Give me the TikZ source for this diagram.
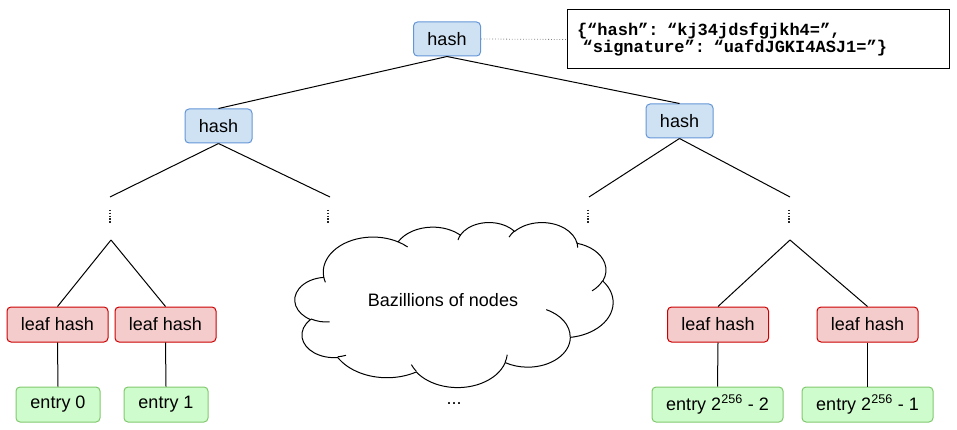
\documentclass[tikz,border=0pt]{standalone}
\usepackage{fontspec}
\setmainfont{Liberation Sans}
\newfontfamily\jsonfont{Liberation Mono}
\definecolor{hashfill}{RGB}{207,226,243}
\definecolor{hashdraw}{RGB}{100,150,215}
\definecolor{leaffill}{RGB}{244,204,204}
\definecolor{leafdraw}{RGB}{204,0,0}
\definecolor{entryfill}{RGB}{206,252,204}
\definecolor{entrydraw}{RGB}{130,200,110}
% OOXML-style elliptical arc: name, wR, hR, start angle, sweep (visual angles)
\newcommand\ooprep[5]{%
  \pgfmathsetmacro\ootA{atan2((#2)*sin(#4),(#3)*cos(#4))}%
  \pgfmathsetmacro\ootB{atan2((#2)*sin((#4)+(#5)),(#3)*cos((#4)+(#5)))}%
  \pgfmathsetmacro\ootB{\ootB+360*(\ootB<\ootA)}%
  \edef\ootmp{\noexpand\tikzset{#1/.style={x radius=#2,y radius=#3,start angle=\ootA,end angle=\ootB}}}%
  \ootmp}
\ooprep{cc1}{67.53}{91.90}{-190.4875}{123.7805}
\ooprep{cc2}{53.33}{72.67}{-144.1024}{89.9452}
\ooprep{cc3}{43.65}{59.45}{-145.8079}{99.7230}
\ooprep{cc4}{48.57}{65.95}{-130.9861}{117.2417}
\ooprep{cc5}{53.33}{72.73}{-78.7089}{109.0269}
\ooprep{cc6}{67.75}{92.20}{-46.2673}{130.2690}
\ooprep{cc7}{57.85}{78.67}{0.6250}{114.0333}
\ooprep{cc8}{67.52}{92.15}{22.4516}{115.1726}
\ooprep{cc9}{77.20}{105.43}{66.2426}{75.7110}
\ooprep{cc10}{43.60}{59.18}{-274.9421}{146.7356}
\ooprep{cc11}{43.45}{59.45}{-246.8285}{152.5189}
\ooprep{hk1}{43.45}{59.45}{86.7420}{26.4295}
\ooprep{hk2}{43.60}{59.18}{73.6105}{11.4475}
\ooprep{hk3}{67.52}{92.15}{137.6242}{14.0811}
\ooprep{hk4}{67.52}{92.15}{6.4533}{15.9984}
\ooprep{hk5}{57.85}{78.67}{-70.2924}{70.9174}
\ooprep{hk6}{53.33}{72.73}{30.3180}{27.7515}
\ooprep{hk7}{48.57}{65.95}{-13.7443}{14.8589}
\ooprep{hk8}{48.57}{65.95}{-149.1815}{18.1954}
\ooprep{hk9}{43.65}{59.45}{-163.4943}{17.6864}
\ooprep{hk10}{67.53}{91.90}{-66.7070}{12.3194}
\ooprep{hk11}{67.53}{91.90}{157.6544}{11.8582}
\begin{document}
\begin{tikzpicture}[x=1pt,y=-1pt,
  every node/.style={font=\fontsize{18}{21}\selectfont, inner sep=0pt},
  conn/.style={line width=1pt, black},
  box/.style={rounded corners=4pt, line width=1pt, minimum height=35pt},
  hashbox/.style={box, fill=hashfill, draw=hashdraw, minimum width=67pt, minimum height=34pt},
  leafbox/.style={box, fill=leaffill, draw=leafdraw, minimum width=101pt},
  entrybox/.style={box, fill=entryfill, draw=entrydraw},
  vdotsnode/.style={minimum width=0pt, minimum height=13pt},
  vdotsline/.style={line width=1.3pt, black!85, dash pattern=on 1.3pt off 1.6pt},
  cloudline/.style={line width=1pt, black}]
\useasboundingbox (0,0) rectangle (957,430);
% hash nodes
\node[hashbox] (root) at (447,39) {hash};
\node[hashbox] (lh) at (218.5,126) {hash};
\node[hashbox] (rh) at (679.5,121) {hash};
% json box
\node[draw=black, line width=1pt, minimum width=382pt, minimum height=59pt,
      text width=362pt, align=left, inner xsep=10pt,
      font=\jsonfont\bfseries\fontsize{17}{17}\selectfont] (json) at (758,39.5)
  {\{“hash”: “kj34jdsfgjkh4=”,\\\ “signature”: “uafdJGKI4ASJ1=”\}};
\draw[dotted, line width=0.8pt, gray] (root.east) -- (json.west);
% top-level connectors
\draw[conn] (root.south) -- (lh.north);
\draw[conn] (root.south) -- (rh.north);
% branch ends and vertical dots
\coordinate (t1) at (110,197);
\coordinate (t2) at (330,197);
\coordinate (t3) at (589,197);
\coordinate (t4) at (790,197);
\draw[conn] (lh.south) -- (t1);
\draw[conn] (lh.south) -- (t2);
\draw[conn] (rh.south) -- (t3);
\draw[conn] (rh.south) -- (t4);
\node[vdotsnode] (d1) at (110,216.5) {};
\node[vdotsnode] (d2) at (328,216.5) {};
\node[vdotsnode] (d3) at (588,216.5) {};
\node[vdotsnode] (d4) at (789,216.5) {};
\foreach \d in {d1,d2,d3,d4}
  \draw[vdotsline] (\d.north) -- (\d.south);
% leaf hashes
\node[leafbox] (l1) at (57.5,324.5) {leaf hash};
\node[leafbox] (l2) at (165.5,324.5) {leaf hash};
\node[leafbox] (l3) at (718,324.5) {leaf hash};
\node[leafbox] (l4) at (867.5,324.5) {leaf hash};
\coordinate (a1) at (111,240);
\coordinate (a4) at (790,240);
\draw[conn] (a1) -- (l1.north);
\draw[conn] (a1) -- (l2.north);
\draw[conn] (a4) -- (l3.north);
\draw[conn] (a4) -- (l4.north);
% entries
\node[entrybox, minimum width=84pt] (e1) at (58,404.5) {entry 0};
\node[entrybox, minimum width=84pt] (e2) at (166,404.5) {entry 1};
\node[entrybox, minimum width=131pt] (e3) at (717.5,404.5) {entry 2\textsuperscript{256} - 2};
\node[entrybox, minimum width=131pt] (e4) at (867.5,404.5) {entry 2\textsuperscript{256} - 1};
\draw[conn] (l1.south) -- (e1.north);
\draw[conn] (l2.south) -- (e2.north);
\draw[conn] (l3.south) -- (e3.north);
\draw[conn] (l4.south) -- (e4.north);
% cloud
\begin{scope}[shift={(295,222)}]
\begin{scope}[x=0.73611pt, y=-0.38194pt]
\draw[cloudline, fill=white] (39.00,143.70) arc[cc1] arc[cc2] arc[cc3] arc[cc4] arc[cc5]
  arc[cc6] arc[cc7] arc[cc8] arc[cc9] arc[cc10] arc[cc11] -- cycle;
\draw[cloudline] (46.93,261.77) arc[hk1];
\draw[cloudline] (69.28,348.99) arc[hk2];
\draw[cloudline] (164.78,390.90) arc[hk3];
\draw[cloudline] (288.27,347.51) arc[hk4];
\draw[cloudline] (341.29,229.54) arc[hk5];
\draw[cloudline] (417.98,153.54) arc[hk6];
\draw[cloudline] (383.24,54.26) arc[hk7];
\draw[cloudline] (290.78,39.52) arc[hk8];
\draw[cloudline] (221.41,47.20) arc[hk9];
\draw[cloudline] (140.00,51.92) arc[hk10];
\draw[cloudline] (41.27,157.89) arc[hk11];
\end{scope}
\end{scope}
\node (cloudtxt) at (443,300) {Bazillions of nodes};
\node (more) at (454,404) {...};
\end{tikzpicture}
\end{document}
